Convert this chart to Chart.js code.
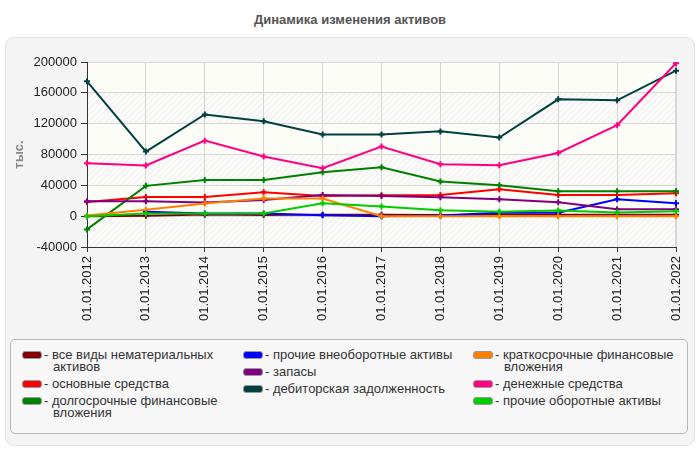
<!DOCTYPE html>
<html lang="ru">
<head>
<meta charset="utf-8">
<title>Динамика изменения активов</title>
<script src="https://cdn.jsdelivr.net/npm/chart.js@4.4.0/dist/chart.umd.min.js"></script>
<style>
  body { margin: 0; background: #fff; font-family: Arial, "Liberation Sans", sans-serif; }
  #wrap { position: relative; width: 700px; height: 450px; overflow: hidden; }
  #title { position: absolute; left: 0; top: 12px; width: 700px; text-align: center;
           font-weight: bold; font-size: 13px; color: #555; }
  #panel { position: absolute; left: 5px; top: 37px; width: 688px; height: 407px;
           background: #f4f4f4; border: 1px solid #e2e2e2; border-radius: 9px; }
  #chart { position: absolute; left: 0; top: 0; }
  #legend { position: absolute; left: 10px; top: 339px; width: 676px; height: 93px;
            background: #f7f7f7; border: 1px solid #b8b8b8; border-radius: 5px; }
  .col { position: absolute; top: 9px; }
  .item { position: relative; padding-left: 33px; font-size: 13px; line-height: 12px;
          color: #333; margin-bottom: 5px; }
  .item .sw { position: absolute; left: 11px; top: 2px; width: 18px; height: 6px;
              border: 1px solid #999; border-radius: 3px; }
  .item .txt { display: block; }
</style>
</head>
<body>
<div id="wrap">
  <div id="title">Динамика изменения активов</div>
  <div id="panel"></div>
  <canvas id="chart" width="700" height="335"></canvas>
  <div id="legend"></div>
</div>
<script>
// Categories (dates)
const labels = ['01.01.2012', '01.01.2013', '01.01.2014', '01.01.2015', '01.01.2016', '01.01.2017',
                '01.01.2018', '01.01.2019', '01.01.2020', '01.01.2021', '01.01.2022'];

// Series values, тыс.
const intangible   = [0, 500, 2000, 1500, 2000, 2000, 1500, 2000, 2000, 2000, 2000];
const fixedAssets  = [18500, 25000, 25000, 31000, 26300, 27200, 27600, 35000, 27600, 27600, 29800];
const longInvest   = [-17200, 39300, 47000, 47000, 57000, 63500, 45000, 40200, 32400, 32400, 32400];
const otherNonCur  = [null, 5600, 3500, 3500, 1300, 0, 1000, 4300, 4500, 22000, 16800];
const inventory    = [19400, 19400, 17700, 21100, 27600, 26300, 24600, 22000, 18100, 9000, 9000];
const receivables  = [175000, 83800, 132000, 123000, 106000, 106000, 110000, 102000, 151600, 150300, 188800];
const shortInvest  = [1000, 8200, 16500, 23000, 23000, 0, 0, 0, 0, 0, 0];
const cash         = [68700, 65700, 98000, 77300, 62200, 90300, 67400, 66100, 82000, 118000, 198300];
const otherCurrent = [0, 3500, 3500, 3500, 16800, 12500, 7800, 5600, 7300, 4800, 6500];

// Series names and colours
const seriesNames = [
  ['все виды нематериальных', 'активов'],
  ['основные средства'],
  ['долгосрочные финансовые', 'вложения'],
  ['прочие внеоборотные активы'],
  ['запасы'],
  ['дебиторская задолженность'],
  ['краткосрочные финансовые', 'вложения'],
  ['денежные средства'],
  ['прочие оборотные активы']
];
const seriesColors = ['#800000', '#ff0000', '#008000', '#0000ff', '#800080', '#004040', '#ff8000', '#ff0080', '#00cc00'];
const seriesData = [intangible, fixedAssets, longInvest, otherNonCur, inventory, receivables, shortInvest, cash, otherCurrent];

// Y axis ticks
const yTicks = [-40000, 0, 40000, 80000, 120000, 160000, 200000];

// hatch pattern for the plot bands
function makeHatch() {
  const c = document.createElement('canvas');
  c.width = c.height = 6;
  const g = c.getContext('2d');
  g.fillStyle = '#fafaf9';
  g.fillRect(0, 0, 6, 6);
  g.strokeStyle = '#ededeb';
  g.lineWidth = 1;
  g.beginPath();
  g.moveTo(0, 6); g.lineTo(6, 0);
  g.moveTo(-3, 3); g.lineTo(3, -3);
  g.moveTo(3, 9); g.lineTo(9, 3);
  g.stroke();
  return g.createPattern(c, 'repeat');
}

const bandsPlugin = {
  id: 'bands',
  beforeDraw(chart) {
    const { ctx, chartArea, scales } = chart;
    const hatch = makeHatch();
    ctx.save();
    for (let i = 0; i < yTicks.length - 1; i++) {
      const yTop = scales.y.getPixelForValue(yTicks[i + 1]);
      const yBot = scales.y.getPixelForValue(yTicks[i]);
      ctx.fillStyle = (i % 2 === 0) ? hatch : '#fdfdf7';
      ctx.fillRect(chartArea.left, yTop, chartArea.right - chartArea.left, yBot - yTop);
    }
    ctx.strokeStyle = '#d8d8d8';
    ctx.lineWidth = 1;
    ctx.beginPath();
    ctx.moveTo(chartArea.left, chartArea.top + 0.5);
    ctx.lineTo(chartArea.right - 0.5, chartArea.top + 0.5);
    ctx.lineTo(chartArea.right - 0.5, chartArea.bottom);
    ctx.stroke();
    ctx.restore();
  }
};

const datasets = seriesData.map((d, i) => ({
  label: seriesNames[i].join(' '),
  data: d,
  borderColor: seriesColors[i],
  backgroundColor: seriesColors[i],
  borderWidth: 2,
  pointStyle: 'cross',
  pointRadius: 3,
  pointBorderWidth: 2,
  fill: false,
  tension: 0,
  order: seriesData.length - i
}));

new Chart(document.getElementById('chart'), {
  type: 'line',
  data: { labels: labels, datasets: datasets },
  plugins: [bandsPlugin],
  options: {
    responsive: false,
    animation: false,
    layout: { padding: { top: 62, right: 24, left: 0, bottom: 0 } },
    plugins: { legend: { display: false }, tooltip: { enabled: false } },
    scales: {
      x: {
        offset: false,
        afterFit(scale) { scale.height = 88; },
        border: { color: '#333', width: 1 },
        grid: { color: '#d6d6d6', borderDash: [4, 3], tickLength: 5, tickColor: '#333', tickBorderDash: [] },
        ticks: { color: '#222', font: { size: 13, family: 'Arial' }, maxRotation: 90, minRotation: 90, padding: 4, autoSkip: false }
      },
      y: {
        min: -40000,
        max: 200000,
        afterFit(scale) { scale.width = 87; },
        afterBuildTicks(scale) { scale.ticks = yTicks.map(v => ({ value: v })); },
        border: { color: '#333', width: 1 },
        grid: { color: '#d6d6d6', borderDash: [4, 3], tickLength: 6, tickColor: '#333', tickBorderDash: [] },
        ticks: { color: '#222', font: { size: 13, family: 'Arial' }, padding: 4, callback: v => String(v) },
        title: { display: true, text: 'тыс.', color: '#888', font: { size: 13, weight: 'bold', family: 'Arial' }, padding: { top: 12, bottom: 0 } }
      }
    }
  }
});

// HTML legend, arranged column by column
const legend = document.getElementById('legend');
const colLeft = [0, 221, 451];
for (let c = 0; c < 3; c++) {
  const col = document.createElement('div');
  col.className = 'col';
  col.style.left = colLeft[c] + 'px';
  for (let r = 0; r < 3; r++) {
    const i = c * 3 + r;
    const item = document.createElement('div');
    item.className = 'item';
    const sw = document.createElement('span');
    sw.className = 'sw';
    sw.style.background = seriesColors[i];
    item.appendChild(sw);
    seriesNames[i].forEach((line, k) => {
      const t = document.createElement('span');
      t.className = 'txt';
      t.textContent = (k === 0 ? '- ' : '') + line;
      if (k > 0) t.style.paddingLeft = '9px';
      item.appendChild(t);
    });
    col.appendChild(item);
  }
  legend.appendChild(col);
}
</script>
</body>
</html>
